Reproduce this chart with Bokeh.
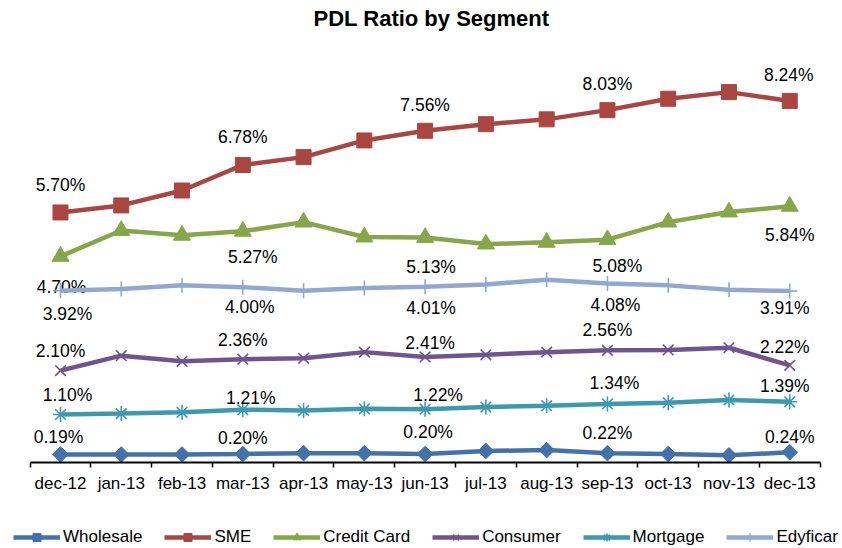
import math
from bokeh.plotting import figure
from bokeh.models import (ColumnDataSource, Range1d, FixedTicker, Legend, LegendItem, Label)
from bokeh.core.properties import value
from bokeh.embed import file_html
from bokeh.resources import INLINE

# ---------------- data ----------------
title_text = "PDL Ratio by Segment"
months = ["dec-12", "jan-13", "feb-13", "mar-13", "apr-13", "may-13", "jun-13",
          "jul-13", "aug-13", "sep-13", "oct-13", "nov-13", "dec-13"]
wholesale = [0.19, 0.19, 0.19, 0.20, 0.22, 0.22, 0.20, 0.27, 0.29, 0.22, 0.20, 0.17, 0.24]
sme = [5.70, 5.86, 6.20, 6.78, 6.96, 7.34, 7.56, 7.71, 7.82, 8.03, 8.29, 8.44, 8.24]
credit_card = [4.70, 5.29, 5.18, 5.27, 5.48, 5.14, 5.13, 4.98, 5.02, 5.08, 5.48, 5.71, 5.84]
consumer = [2.10, 2.44, 2.31, 2.36, 2.38, 2.52, 2.41, 2.46, 2.52, 2.56, 2.57, 2.62, 2.22]
mortgage = [1.10, 1.12, 1.15, 1.21, 1.19, 1.23, 1.22, 1.27, 1.30, 1.34, 1.37, 1.43, 1.39]
edyficar = [3.92, 3.96, 4.04, 4.00, 3.92, 3.98, 4.01, 4.06, 4.17, 4.08, 4.04, 3.94, 3.91]
labeled_idx = [0, 3, 6, 9, 12]

# ---------------- styles ----------------
FONT = "Liberation Sans"
series = [
    # name, values, color, marker, size, angle, label offsets (dx, dy px; +dy = down)
    ("Wholesale", wholesale, "#4371A9", "square", 11, math.pi / 4,
     [(-2, -17), (0, -16), (3, -22), (0, -20), (0, -15)]),
    ("SME", sme, "#AA4642", "square", 15, 0,
     [(0, -27), (0, -28), (0, -26), (0, -26), (-1, -26)]),
    ("Credit Card", credit_card, "#87A64A", "triangle", 17, 0,
     [(1, 31), (10, 26), (6, 30), (10, 26), (0, 29)]),
    ("Consumer", consumer, "#6F558F", "x", 15, 0,
     [(0, -20), (0, -19), (5, -14), (0, -20), (-5, -18)]),
    ("Mortgage", mortgage, "#3F99AE", "asterisk", 15, 0,
     [(7, -19), (8, -12), (13, -14), (7, -21), (-5, -16)]),
    ("Edyficar", edyficar, "#91A9D0", "cross", 15, 0,
     [(7, 23), (7, 20), (6, 21), (8, 21), (-5, 17)]),
]

xs = list(range(len(months)))
n = len(months)

# the plot frame covers the whole canvas; the category axis sits at y = 0,
# the legend lies below it and the title above the lines
p = figure(width=842, height=548, output_backend="svg", toolbar_location=None,
           x_range=Range1d(-0.987, 12.868), y_range=Range1d(-1.951, 10.526),
           y_axis_location=None, min_border_left=0, min_border_right=0,
           min_border_top=0, min_border_bottom=0)
p.outline_line_color = None
p.grid.visible = False
p.background_fill_color = "white"
p.border_fill_color = "white"

p.add_layout(Label(x=431, y=530, x_units="screen", y_units="screen", text=title_text,
                   text_font=FONT, text_font_size="22px", text_font_style="bold",
                   text_color="black", text_align="center", text_baseline="middle"))

ax = p.xaxis[0]
ax.fixed_location = 0
ax.bounds = (-0.5, n - 0.5)
ax.ticker = FixedTicker(ticks=xs, minor_ticks=[i - 0.5 for i in range(n + 1)])
ax.major_label_overrides = {i: m for i, m in enumerate(months)}
ax.major_tick_out = 0
ax.major_tick_in = 0
ax.minor_tick_out = 5
ax.minor_tick_in = 0
ax.minor_tick_line_color = "black"
ax.minor_tick_line_width = 1.5
ax.axis_line_color = "black"
ax.axis_line_width = 2
ax.major_label_text_font = FONT
ax.major_label_text_font_size = "17px"
ax.major_label_text_color = "black"
ax.major_label_standoff = 6

items = []
for name, vals, color, marker, size, angle, offs in series:
    src = ColumnDataSource(dict(x=xs, y=vals))
    lr = p.line("x", "y", source=src, line_color=color, line_width=4.5)
    if marker in ("x", "asterisk", "cross"):
        sr = p.scatter("x", "y", source=src, marker=marker, size=size,
                       line_color=color, line_width=1.6, fill_color=None)
    else:
        sr = p.scatter("x", "y", source=src, marker=marker, size=size, angle=angle,
                       line_color=color, fill_color=color, line_width=1)
    items.append(LegendItem(label=name, renderers=[lr, sr]))
    lsrc = ColumnDataSource(dict(
        x=[xs[i] for i in labeled_idx],
        y=[vals[i] for i in labeled_idx],
        t=["%.2f%%" % vals[i] for i in labeled_idx],
        dx=[o[0] for o in offs],
        dy=[o[1] for o in offs],
    ))
    p.text("x", "y", text="t", x_offset="dx", y_offset="dy", source=lsrc,
           text_font=value(FONT), text_font_size="17.5px", text_color="black",
           text_align="center", text_baseline="middle")

legend = Legend(items=items, orientation="horizontal", location=(13, 1),
                glyph_width=47, glyph_height=20, label_standoff=3, spacing=22,
                padding=0, margin=0, border_line_alpha=0, background_fill_alpha=0,
                label_text_font=FONT, label_text_font_size="17px",
                label_text_color="black")
p.add_layout(legend)

open("out.html", "w").write(file_html(p, INLINE))
